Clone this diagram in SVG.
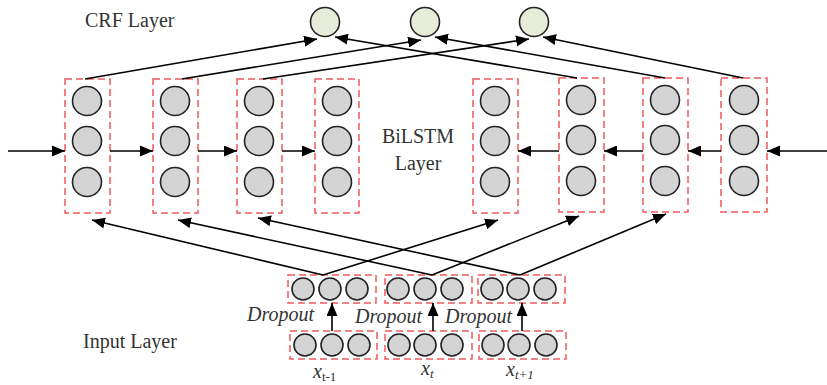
<svg xmlns="http://www.w3.org/2000/svg" width="827" height="385" viewBox="0 0 827 385">
<defs>
<marker id="ah" markerUnits="userSpaceOnUse" markerWidth="13" markerHeight="11" refX="13" refY="5.5" orient="auto">
<path d="M0,0 L13,5.5 L0,11 z" fill="#000"/>
</marker>
<style>
.box{fill:none;stroke:#f05a5a;stroke-width:1.5;stroke-dasharray:7,4}
.n{fill:#d4d4d4;stroke:#222;stroke-width:1.6}
.crf{fill:#e6ecd8;stroke:#222;stroke-width:1.6}
.c{fill:none;stroke:#000;stroke-width:1.6;marker-end:url(#ah)}
</style>
</defs>
<rect width="827" height="385" fill="#fff"/>
<g font-family="Liberation Serif, Times New Roman, DejaVu Serif, serif" font-size="20" fill="#333">
<text x="85" y="27">CRF Layer</text>
<text x="418" y="143" text-anchor="middle">BiLSTM</text>
<text x="418" y="170" text-anchor="middle">Layer</text>
<text x="83" y="348">Input Layer</text>
</g>

<g id="crf1"><circle class="crf" cx="325" cy="22" r="14.5"/></g>
<g id="crf2"><circle class="crf" cx="425" cy="22" r="14.5"/></g>
<g id="crf3"><circle class="crf" cx="534" cy="22" r="14.5"/></g>

<g id="lstm1"><rect class="box" x="65" y="79" width="45" height="134"/><circle class="n" cx="87" cy="101" r="14.5"/><circle class="n" cx="87" cy="141" r="14.5"/><circle class="n" cx="87" cy="182" r="14.5"/></g>
<g id="lstm2"><rect class="box" x="153" y="79" width="45" height="134"/><circle class="n" cx="175" cy="101" r="14.5"/><circle class="n" cx="175" cy="141" r="14.5"/><circle class="n" cx="175" cy="182" r="14.5"/></g>
<g id="lstm3"><rect class="box" x="237" y="79" width="45" height="134"/><circle class="n" cx="259" cy="101" r="14.5"/><circle class="n" cx="259" cy="141" r="14.5"/><circle class="n" cx="259" cy="182" r="14.5"/></g>
<g id="lstm4"><rect class="box" x="315" y="79" width="44" height="134"/><circle class="n" cx="337" cy="101" r="14.5"/><circle class="n" cx="337" cy="141" r="14.5"/><circle class="n" cx="337" cy="182" r="14.5"/></g>
<g id="lstm5"><rect class="box" x="473" y="79" width="45" height="134"/><circle class="n" cx="495" cy="101" r="14.5"/><circle class="n" cx="495" cy="141" r="14.5"/><circle class="n" cx="495" cy="182" r="14.5"/></g>
<g id="lstm6"><rect class="box" x="559" y="78" width="45" height="134"/><circle class="n" cx="581" cy="100" r="14.5"/><circle class="n" cx="581" cy="140" r="14.5"/><circle class="n" cx="581" cy="181" r="14.5"/></g>
<g id="lstm7"><rect class="box" x="643" y="78" width="45" height="134"/><circle class="n" cx="665" cy="100" r="14.5"/><circle class="n" cx="665" cy="140" r="14.5"/><circle class="n" cx="665" cy="181" r="14.5"/></g>
<g id="lstm8"><rect class="box" x="721" y="78" width="46" height="134"/><circle class="n" cx="744" cy="100" r="14.5"/><circle class="n" cx="744" cy="140" r="14.5"/><circle class="n" cx="744" cy="181" r="14.5"/></g>

<g id="drop-a"><rect class="box" x="288" y="275" width="88" height="28"/><circle class="n" cx="303" cy="289" r="11"/><circle class="n" cx="330" cy="289" r="11"/><circle class="n" cx="357" cy="289" r="11"/></g>
<g id="drop-b"><rect class="box" x="385" y="275" width="87" height="28"/><circle class="n" cx="398" cy="289" r="11"/><circle class="n" cx="425" cy="289" r="11"/><circle class="n" cx="452" cy="289" r="11"/></g>
<g id="drop-c"><rect class="box" x="478" y="275" width="87" height="28"/><circle class="n" cx="492" cy="289" r="11"/><circle class="n" cx="518" cy="289" r="11"/><circle class="n" cx="545" cy="289" r="11"/></g>

<g font-family="Liberation Serif, Times New Roman, DejaVu Serif, serif" font-size="20" font-style="italic" fill="#333">
<g id="in-a"><rect class="box" x="290" y="331" width="87" height="28"/><circle class="n" cx="305" cy="345" r="11"/><circle class="n" cx="332" cy="345" r="11"/><circle class="n" cx="359" cy="345" r="11"/><text x="313" y="378">x<tspan font-size="13" font-style="normal" dy="3">t-1</tspan></text></g>
<g id="in-b"><rect class="box" x="385" y="331" width="87" height="28"/><circle class="n" cx="399" cy="345" r="11"/><circle class="n" cx="425" cy="345" r="11"/><circle class="n" cx="452" cy="345" r="11"/><text x="421" y="375">x<tspan font-size="13" dy="3">t</tspan></text></g>
<g id="in-c"><rect class="box" x="479" y="331" width="87" height="28"/><circle class="n" cx="493" cy="345" r="11"/><circle class="n" cx="519" cy="345" r="11"/><circle class="n" cx="546" cy="345" r="11"/><text x="506" y="376">x<tspan font-size="13" dy="3">t+1</tspan></text></g>
<text x="247" y="321">Dropout</text>
<text x="355" y="323">Dropout</text>
<text x="445" y="323">Dropout</text>
</g>

<g id="connectors">
<line class="c" x1="8" y1="151" x2="65" y2="151"/>
<line class="c" x1="110" y1="151" x2="153" y2="151"/>
<line class="c" x1="198" y1="151" x2="237" y2="151"/>
<line class="c" x1="282" y1="151" x2="315" y2="151"/>
<line class="c" x1="827" y1="151" x2="767" y2="151"/>
<line class="c" x1="721" y1="151" x2="688" y2="151"/>
<line class="c" x1="643" y1="151" x2="604" y2="151"/>
<line class="c" x1="559" y1="151" x2="518" y2="151"/>

<line class="c" x1="85" y1="79" x2="317" y2="39"/>
<line class="c" x1="182" y1="79" x2="421" y2="40"/>
<line class="c" x1="263" y1="79" x2="529" y2="39"/>
<line class="c" x1="577" y1="78" x2="335" y2="37"/>
<line class="c" x1="665" y1="78" x2="435" y2="37"/>
<line class="c" x1="743" y1="78" x2="543" y2="37"/>

<line class="c" x1="323" y1="275" x2="92" y2="220"/>
<line class="c" x1="323" y1="275" x2="498" y2="220"/>
<line class="c" x1="432" y1="275" x2="178" y2="220"/>
<line class="c" x1="432" y1="275" x2="579" y2="216"/>
<line class="c" x1="520" y1="275" x2="258" y2="218"/>
<line class="c" x1="520" y1="275" x2="666" y2="214"/>

<line class="c" x1="332" y1="331" x2="332" y2="303"/>
<line class="c" x1="433" y1="331" x2="433" y2="303"/>
<line class="c" x1="522" y1="331" x2="522" y2="303"/>
</g>
</svg>
